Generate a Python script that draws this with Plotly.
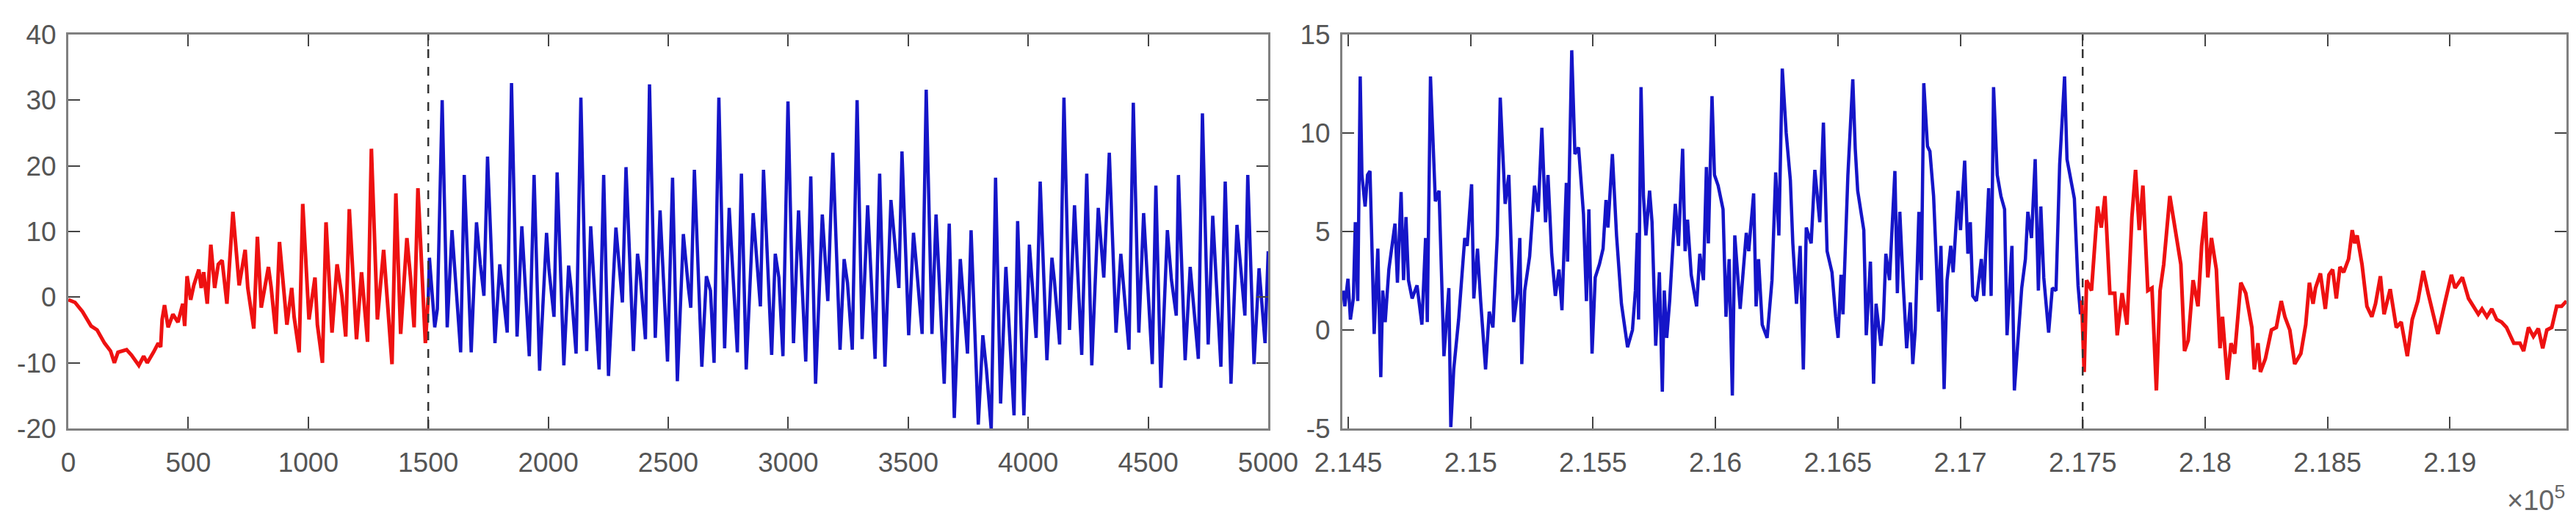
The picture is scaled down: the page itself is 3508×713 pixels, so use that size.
import plotly.graph_objects as go

# ---------------- data ----------------
# Left panel: samples 0..5000, red = first segment, blue = continuation
left_red_x = [0, 28, 59, 95, 120, 151, 176, 192, 207, 243, 263, 294, 314, 329, 355, 375, 385, 391, 401, 416,
              436, 457, 477, 485, 495, 510, 523, 544, 554, 564, 579, 594, 610, 625, 641, 661, 686, 712, 737, 748,
              773, 788, 804, 834, 845, 865, 880, 911, 931, 941, 962, 977, 1003, 1028, 1038, 1059, 1074, 1099, 1120, 1140,
              1156, 1171, 1201, 1222, 1247, 1263, 1288, 1314, 1349, 1365, 1385, 1411, 1426, 1441, 1457, 1488, 1500]
left_red_y = [-0.4, -0.8, -2.2, -4.4, -5.0, -7.0, -8.2, -10.0, -8.4, -8.0, -8.8, -10.4, -9.0, -10.0, -8.4, -7.0, -7.6, -3.4, -1.2, -4.6,
              -2.6, -3.8, -1.0, -4.4, 3.2, -0.4, 1.8, 4.2, 1.4, 3.8, -1.0, 8.0, 1.4, 5.0, 5.6, -1.0, 13.0, 1.8, 7.2, 1.4,
              -4.8, 9.2, -1.6, 4.6, 1.6, -5.6, 8.4, -4.2, 1.4, -3.0, -8.4, 14.2, -3.4, 3.0, -4.2, -10.0, 11.4, -5.4, 5.0, 0.2,
              -6.0, 13.4, -6.4, 3.8, -6.8, 22.6, -3.4, 7.2, -10.2, 15.8, -5.6, 9.0, 3.0, -4.6, 16.6, -7.0, 0.0]

left_blue_x = [1500, 1505, 1512, 1527, 1538, 1558, 1579, 1599, 1635, 1650, 1679, 1701, 1717, 1732, 1747, 1778, 1798, 1809, 1829, 1847,
               1870, 1890, 1921, 1941, 1964, 1993, 2003, 2024, 2037, 2065, 2085, 2095, 2116, 2136, 2160, 2177, 2212, 2231, 2251, 2282,
               2294, 2309, 2324, 2355, 2372, 2382, 2405, 2422, 2446, 2466, 2497, 2518, 2538, 2563, 2584, 2594, 2609, 2640, 2659, 2676,
               2691, 2711, 2735, 2754, 2788, 2805, 2825, 2854, 2884, 2897, 2931, 2946, 2961, 2978, 2999, 3022, 3043, 3073, 3094, 3114,
               3142, 3165, 3186, 3216, 3233, 3247, 3267, 3287, 3308, 3331, 3362, 3381, 3403, 3428, 3461, 3474, 3502, 3522, 3532, 3558,
               3575, 3599, 3616, 3650, 3671, 3692, 3717, 3747, 3762, 3792, 3811, 3826, 3846, 3864, 3885, 3907, 3941, 3956, 3982, 4005,
               4033, 4050, 4078, 4099, 4109, 4131, 4149, 4172, 4193, 4223, 4244, 4265, 4292, 4315, 4338, 4366, 4386, 4420, 4438, 4461,
               4481, 4517, 4532, 4553, 4580, 4597, 4617, 4626, 4654, 4675, 4709, 4726, 4750, 4769, 4803, 4821, 4845, 4870, 4903, 4915,
               4941, 4962, 4987, 5000]
left_blue_y = [0.0, 6.0, 2.6, -4.6, -1.8, 30.0, -4.6, 10.2, -8.4, 18.6, -8.4, 11.4, 5.0, 0.2, 21.4, -7.0, 5.0, 1.4, -5.4, 32.6,
               -6.0, 10.8, -9.0, 18.6, -11.2, 9.8, 4.2, -3.0, 19.0, -10.4, 4.8, 1.4, -8.6, 30.4, -8.2, 10.8, -11.0, 18.6, -12.0, 10.6,
               5.4, -0.8, 19.8, -8.2, 6.6, 3.8, -6.4, 32.4, -6.2, 13.2, -9.8, 18.2, -12.8, 9.6, 1.4, -1.6, 19.4, -10.6, 3.2, 1.0,
               -10.0, 30.4, -7.8, 13.6, -8.4, 18.8, -11.0, 12.8, -1.4, 19.4, -8.8, 6.6, 3.0, -9.0, 29.8, -7.0, 13.2, -9.8, 18.4, -13.2,
               12.6, -0.6, 22.0, -8.0, 5.8, 2.2, -8.0, 30.0, -6.4, 14.0, -9.4, 18.8, -10.6, 14.8, 1.4, 22.2, -5.8, 9.8, 5.8, -5.6,
               31.6, -5.6, 12.6, -13.2, 11.2, -18.4, 5.8, -8.6, 10.2, -19.4, -5.8, -11.0, -20.2, 18.2, -16.2, 4.6, -18.0, 11.6, -18.0, 8.0,
               -6.2, 17.6, -9.6, 6.0, 2.6, -7.2, 30.4, -5.0, 14.0, -8.8, 18.8, -10.4, 13.6, 3.0, 22.0, -5.4, 6.6, -8.0, 29.6, -5.4,
               12.8, -10.2, 17.0, -13.8, 10.2, 2.6, -2.8, 18.6, -9.6, 4.6, -9.4, 28.0, -7.2, 12.4, -10.6, 17.6, -13.2, 11.0, -2.8, 18.6,
               -10.2, 4.4, -7.0, 7.0]

# Right panel: samples 214476..219476, blue first, red continuation
right_blue_x = [214479, 214486, 214499, 214509, 214521, 214529, 214539, 214549, 214556, 214569, 214579, 214589, 214606, 214621, 214633,
                214641, 214651, 214666, 214691, 214701, 214716, 214726, 214736, 214746, 214761, 214781, 214801, 214816, 214823, 214836,
                214856, 214871, 214891, 214911, 214919, 214931, 214951, 214976, 214986, 215004, 215013, 215028, 215041, 215061, 215076,
                215091, 215109, 215121, 215141, 215156, 215176, 215191, 215201, 215209, 215221, 215241, 215261, 215276, 215291, 215306,
                215316, 215331, 215346, 215361, 215373, 215391, 215396, 215413, 215426, 215441, 215461, 215473, 215483, 215496, 215509,
                215526, 215541, 215553, 215561, 215579, 215596, 215616, 215641, 215661, 215673, 215681, 215686, 215696, 215706, 215716,
                215731, 215741, 215756, 215771, 215783, 215791, 215801, 215813, 215836, 215849, 215866, 215876, 215886, 215901, 215923,
                215936, 215951, 215963, 215971, 215986, 215996, 216011, 216031, 216043, 216056, 216069, 216079, 216101, 216126, 216136,
                216156, 216166, 216176, 216191, 216211, 216231, 216246, 216259, 216273, 216289, 216306, 216316, 216331, 216346, 216359,
                216371, 216391, 216406, 216426, 216441, 216456, 216476, 216491, 216501, 216513, 216521, 216541, 216561, 216571, 216581,
                216606, 216616, 216633, 216646, 216656, 216676, 216686, 216696, 216711, 216733, 216743, 216753, 216766, 216781, 216796,
                216806, 216816, 216831, 216841, 216851, 216866, 216876, 216891, 216911, 216921, 216934, 216946, 216961, 216971, 216991,
                217001, 217018, 217031, 217041, 217051, 217066, 217086, 217096, 217116, 217126, 217136, 217151, 217166, 217181, 217191,
                217211, 217221, 217239, 217251, 217266, 217276, 217291, 217306, 217319, 217329, 217341, 217361, 217376, 217391, 217406,
                217426, 217436, 217451, 217466, 217481, 217491, 217496]
right_blue_y = [2.0, 1.2, 2.6, 0.53, 1.6, 5.47, 1.47, 12.87, 7.87, 6.27, 7.87, 8.07, -0.2, 4.13, -2.4,
                2.0, 0.4, 3.07, 5.4, 2.4, 7.0, 2.53, 5.73, 2.53, 1.6, 2.27, 0.27, 4.67, 0.4, 12.87,
                6.53, 7.07, -1.33, 2.13, -4.93, -2.0, 0.53, 4.67, 4.27, 7.4, 1.6, 4.13, 1.47, -2.0, 0.93,
                0.13, 4.8, 11.8, 6.4, 7.87, 0.4, 1.87, 4.67, -1.73, 2.0, 3.73, 7.33, 6.0, 10.27, 5.47,
                7.87, 3.87, 1.73, 3.07, 1.0, 7.47, 3.47, 14.2, 8.93, 9.27, 5.87, 1.47, 6.13, -1.2, 2.67,
                3.33, 4.13, 6.6, 5.2, 8.93, 4.8, 1.33, -0.87, 0.0, 2.0, 4.93, 0.53, 12.33, 6.8, 4.8,
                7.07, 5.47, -0.8, 2.93, -3.13, 2.0, -0.4, 1.47, 6.4, 4.27, 9.2, 4.0, 5.6, 2.8, 1.2,
                3.87, 2.53, 8.27, 4.4, 11.87, 7.87, 7.33, 6.13, 0.67, 3.6, -3.33, 4.8, 1.07, 4.93, 4.0,
                6.93, 1.2, 3.6, 0.27, -0.4, 2.53, 8.0, 4.8, 13.27, 10.0, 7.6, 4.4, 1.33, 4.27, -2.0,
                5.2, 4.4, 8.13, 5.47, 10.53, 4.0, 2.93, 0.67, -0.4, 2.8, 0.8, 7.87, 12.73, 9.2, 7.07,
                5.07, -0.27, 3.47, -2.73, 1.33, -0.8, 0.53, 3.87, 2.53, 8.07, 1.87, 6.0, 2.53, -0.93, 1.4,
                -1.73, 0.0, 6.0, 2.53, 12.53, 9.33, 9.07, 6.8, 0.93, 4.27, -3.0, 2.53, 4.27, 2.93, 7.07,
                5.07, 8.6, 3.87, 5.47, 1.73, 1.47, 3.6, 1.73, 7.2, 1.73, 12.33, 7.87, 6.8, 6.13, -0.27,
                4.27, -3.07, -0.13, 2.13, 3.6, 6.0, 4.67, 8.67, 2.0, 6.27, 2.67, -0.13, 2.13, 2.0, 8.4,
                12.87, 8.67, 7.6, 6.67, 2.27, 0.8, 1.5]

right_red_x = [217496, 217506, 217516, 217536, 217546, 217561, 217576, 217591, 217611, 217631, 217641, 217661, 217681, 217701, 217716,
               217731, 217746, 217766, 217783, 217801, 217816, 217831, 217856, 217881, 217901, 217916, 217931, 217951, 217971, 217986,
               218001, 218011, 218026, 218046, 218061, 218071, 218091, 218106, 218121, 218146, 218166, 218191, 218201, 218216, 218226,
               218246, 218271, 218291, 218311, 218326, 218346, 218366, 218391, 218411, 218426, 218441, 218451, 218471, 218491, 218506,
               218521, 218536, 218551, 218566, 218586, 218601, 218611, 218621, 218641, 218661, 218681, 218696, 218716, 218731, 218756,
               218781, 218801, 218826, 218846, 218869, 218891, 218911, 218951, 218981, 219006, 219021, 219051, 219076, 219096, 219116,
               219131, 219151, 219171, 219191, 219211, 219231, 219261, 219286, 219301, 219321, 219341, 219361, 219379, 219396, 219416,
               219436, 219456, 219476]
right_red_y = [1.5, -2.13, 2.53, 2.0, 3.73, 6.27, 5.2, 6.8, 1.87, 1.87, -0.27, 1.87, 0.27, 5.73, 8.13,
               5.07, 7.33, 2.0, 2.13, -3.07, 2.0, 3.33, 6.8, 4.93, 3.33, -1.07, -0.53, 2.53, 1.2, 4.27,
               6.0, 2.67, 4.67, 3.07, -0.93, 0.67, -2.53, -0.67, -1.2, 2.4, 1.87, 0.13, -2.0, -0.67, -2.13,
               -1.47, 0.0, 0.13, 1.47, 0.67, 0.0, -1.73, -1.2, 0.27, 2.4, 1.33, 2.13, 2.87, 1.07, 2.8,
               3.07, 1.6, 3.2, 2.93, 3.6, 5.07, 4.4, 4.8, 3.33, 1.2, 0.67, 1.33, 2.73, 0.8, 2.07,
               0.13, 0.4, -1.33, 0.53, 1.47, 3.0, 1.87, -0.2, 1.47, 2.8, 2.13, 2.67, 1.6, 1.2, 0.8,
               1.07, 0.67, 1.07, 0.53, 0.4, 0.13, -0.67, -0.67, -1.07, 0.13, -0.33, 0.07, -0.93, 0.0, 0.13,
               1.2, 1.2, 1.47]

# split positions (dashed markers)
left_split = 1500
right_split = 217500

# axes / tick labels
left_xrange = [0, 5000]
left_yrange = [-20, 40]
left_xticks = [0, 500, 1000, 1500, 2000, 2500, 3000, 3500, 4000, 4500, 5000]
left_yticks = [-20, -10, 0, 10, 20, 30, 40]
right_xrange = [214476, 219476]
right_yrange = [-5, 15]
right_xticks = [214500, 215000, 215500, 216000, 216500, 217000, 217500, 218000, 218500, 219000]
right_xticklabels = ["2.145", "2.15", "2.155", "2.16", "2.165", "2.17", "2.175", "2.18", "2.185", "2.19"]
right_yticks = [-5, 0, 5, 10, 15]
exponent_label = "×10<sup>5</sup>"

# ---------------- figure ----------------
W, H = 3508, 713
RED = "#ee1111"
BLUE = "#1515c8"
TXT = "#555555"
FONT = "Liberation Sans, Arial, sans-serif"

fig = go.Figure()
fig.add_trace(go.Scatter(x=left_red_x, y=left_red_y, mode="lines",
                         line=dict(color=RED, width=5), xaxis="x", yaxis="y", showlegend=False))
fig.add_trace(go.Scatter(x=left_blue_x, y=left_blue_y, mode="lines",
                         line=dict(color=BLUE, width=4.5), xaxis="x", yaxis="y", showlegend=False))
fig.add_trace(go.Scatter(x=right_blue_x, y=right_blue_y, mode="lines",
                         line=dict(color=BLUE, width=4.5), xaxis="x2", yaxis="y2", showlegend=False))
fig.add_trace(go.Scatter(x=right_red_x, y=right_red_y, mode="lines",
                         line=dict(color=RED, width=5), xaxis="x2", yaxis="y2", showlegend=False))

ydom = [138 / H, 674 / H]
axis_common = dict(showline=True, linecolor="#808080", linewidth=3, mirror="ticks",
                   ticks="inside", ticklen=16, tickwidth=2, tickcolor="#444444",
                   showgrid=False, zeroline=False, automargin=False,
                   tickfont=dict(family=FONT, size=37, color=TXT))

fig.update_layout(
    width=W, height=H,
    margin=dict(l=0, r=0, t=0, b=0, autoexpand=False),
    paper_bgcolor="white", plot_bgcolor="white",
    xaxis=dict(domain=[85 / W, 1719 / W], range=left_xrange, tickmode="array",
               tickvals=left_xticks, ticktext=[str(v) for v in left_xticks],
               anchor="y", ticklabelstandoff=12, **axis_common),
    yaxis=dict(domain=ydom, range=left_yrange, tickmode="array",
               tickvals=left_yticks, ticktext=[str(v) for v in left_yticks],
               anchor="x", ticklabelstandoff=6, **axis_common),
    xaxis2=dict(domain=[1820 / W, 3487 / W], range=right_xrange, tickmode="array",
                tickvals=right_xticks, ticktext=right_xticklabels,
                anchor="y2", ticklabelstandoff=12, **axis_common),
    yaxis2=dict(domain=ydom, range=right_yrange, tickmode="array",
                tickvals=right_yticks, ticktext=[str(v) for v in right_yticks],
                anchor="x2", ticklabelstandoff=6, **axis_common),
    shapes=[
        dict(type="line", xref="x", yref="y domain", x0=left_split, x1=left_split, y0=0, y1=1,
             line=dict(color="#333333", width=2.5, dash="12px,12px")),
        dict(type="line", xref="x2", yref="y2 domain", x0=right_split, x1=right_split, y0=0, y1=1,
             line=dict(color="#333333", width=2.5, dash="12px,12px")),
    ],
    annotations=[
        dict(text=exponent_label, xref="paper", yref="paper", x=3487 / W, y=(H - 670) / H,
             xanchor="right", yanchor="middle", showarrow=False,
             font=dict(family=FONT, size=38, color="#666666")),
    ],
)

fig.write_html("out.html")
